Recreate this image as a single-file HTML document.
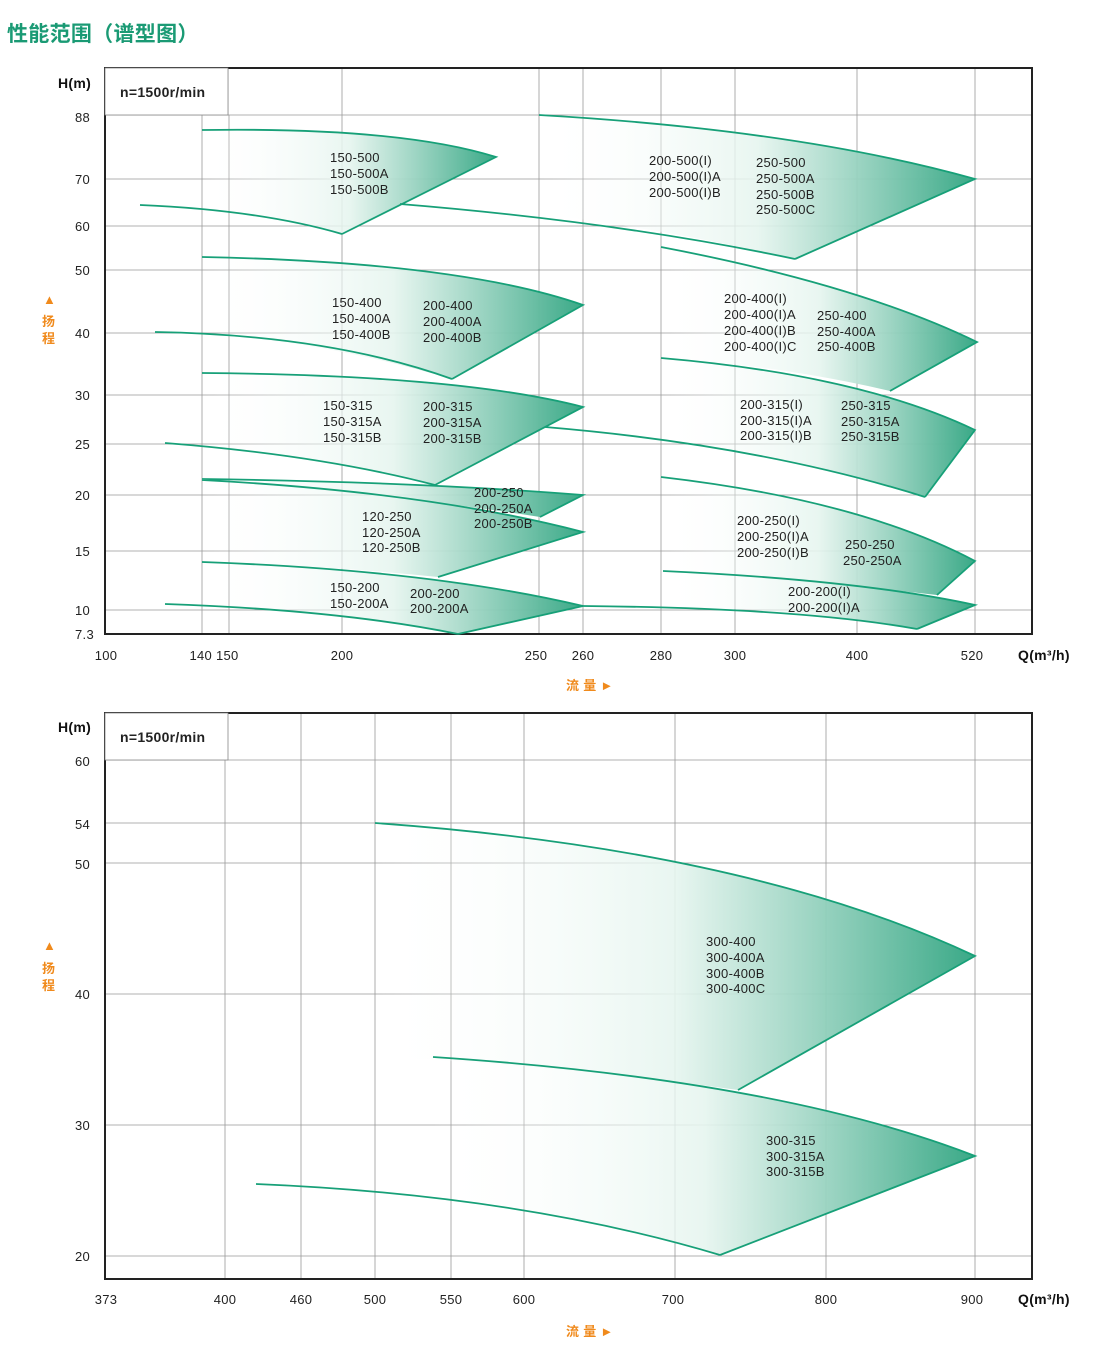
<!DOCTYPE html>
<html><head><meta charset="utf-8"><style>
body{margin:0;background:#fff;width:1096px;height:1352px;overflow:hidden}
svg{display:block}
text{font-family:"Liberation Sans","Noto Sans CJK SC",sans-serif;font-size:13px;fill:#222;letter-spacing:0.3px}
.ax{font-size:14px;fill:#111}
.g line{stroke:#999;stroke-width:0.8}
.s{fill:none;stroke:#17a078;stroke-width:1.8}
.f{fill:url(#gr);stroke:none}
.o{fill:#f08a1c;font-size:13px;font-weight:bold}
</style></head><body>
<svg width="1096" height="1352" xmlns="http://www.w3.org/2000/svg">
<defs><linearGradient id="gr" x1="0" y1="0" x2="1" y2="0">
<stop offset="0" stop-color="#ffffff" stop-opacity="0"/>
<stop offset="0.5" stop-color="#e6f5ef" stop-opacity="0.9"/>
<stop offset="1" stop-color="#3aa987"/>
</linearGradient></defs>
<text x="7" y="41" style="font-size:21px;font-weight:bold;fill:#1a9a74">性能范围（谱型图）</text>

<!-- Chart 1 -->
<g class="g">
<line x1="202" y1="115" x2="202" y2="634"/><line x1="229" y1="115" x2="229" y2="634"/><line x1="342" y1="68" x2="342" y2="634"/>
<line x1="539" y1="68" x2="539" y2="634"/><line x1="583" y1="68" x2="583" y2="634"/><line x1="661" y1="68" x2="661" y2="634"/>
<line x1="735" y1="68" x2="735" y2="634"/><line x1="857" y1="68" x2="857" y2="634"/><line x1="975" y1="68" x2="975" y2="634"/>
<line x1="105" y1="115" x2="1032" y2="115"/><line x1="105" y1="179" x2="1032" y2="179"/><line x1="105" y1="226" x2="1032" y2="226"/>
<line x1="105" y1="270" x2="1032" y2="270"/><line x1="105" y1="333" x2="1032" y2="333"/><line x1="105" y1="395" x2="1032" y2="395"/>
<line x1="105" y1="444" x2="1032" y2="444"/><line x1="105" y1="495" x2="1032" y2="495"/><line x1="105" y1="551" x2="1032" y2="551"/>
<line x1="105" y1="610" x2="1032" y2="610"/><line x1="228" y1="68" x2="228" y2="115"/>
</g>
<rect x="105" y="68" width="927" height="566" fill="none" stroke="#222" stroke-width="2"/>
<rect x="105" y="68" width="123" height="47" fill="#fff" stroke="#888" stroke-width="0.8"/>
<text x="120" y="97" style="font-size:14px;font-weight:bold">n=1500r/min</text>

<path class="f" d="M202,130 Q400,127 496,157 L342,234 Q250,212 202,208 Z"/>
<path class="f" d="M539,115 Q800,130 975,179 L795,259 Q660,228 539,214 Z"/>
<path class="f" d="M202,257 Q460,262 583,305 L452,379 Q320,340 202,335 Z"/>
<path class="f" d="M661,247 Q860,285 977,342 L890,391 Q780,365 661,358 Z"/>
<path class="f" d="M661,358 Q860,375 975,430 L925,497 Q790,455 661,438 Z"/>
<path class="f" d="M202,373 Q460,375 583,407 L435,485 Q320,455 202,447 Z"/>
<path class="f" d="M202,479 Q430,492 583,532 L438,577 Q320,565 202,562 Z"/>
<path class="f" d="M202,479 Q420,482 583,495 L540,517 Q400,495 202,480 Z"/>
<path class="f" d="M202,562 Q430,570 583,606 L458,634 Q340,612 202,606 Z"/>
<path class="f" d="M661,477 Q860,500 975,561 L937,595 Q800,580 663,571 Z"/>
<path class="f" d="M663,571 Q860,580 975,605 L917,629 Q800,608 663,607 Z"/>

<path class="s" d="M202,130 Q400,127 496,157 L342,234 M140,205 Q260,210 342,234"/>
<path class="s" d="M539,115 Q800,130 975,179 L795,259 M400,204 Q620,222 795,259"/>
<path class="s" d="M202,257 Q460,262 583,305 L452,379 M155,332 Q330,335 452,379"/>
<path class="s" d="M661,247 Q860,285 977,342 L890,391"/>
<path class="s" d="M661,358 Q860,375 975,430 L925,497 M545,427 Q760,445 925,497"/>
<path class="s" d="M202,373 Q460,375 583,407 L435,485 M165,443 Q320,455 435,485"/>
<path class="s" d="M202,479 Q420,482 583,495 L540,517 M202,480 Q430,492 583,532 L438,577"/>
<path class="s" d="M202,562 Q430,570 583,606 L458,634 M165,604 Q340,610 458,634"/>
<path class="s" d="M661,477 Q860,500 975,561 L937,595"/>
<path class="s" d="M663,571 Q860,580 975,605 L917,629 M583,606 Q800,608 917,629"/>

<text x="330" y="162">150-500</text><text x="330" y="178">150-500A</text><text x="330" y="194">150-500B</text>
<text x="649" y="165">200-500(I)</text><text x="649" y="181">200-500(I)A</text><text x="649" y="197">200-500(I)B</text>
<text x="756" y="167">250-500</text><text x="756" y="183">250-500A</text><text x="756" y="199">250-500B</text><text x="756" y="214">250-500C</text>
<text x="332" y="307">150-400</text><text x="332" y="323">150-400A</text><text x="332" y="339">150-400B</text>
<text x="423" y="310">200-400</text><text x="423" y="326">200-400A</text><text x="423" y="342">200-400B</text>
<text x="724" y="303">200-400(I)</text><text x="724" y="319">200-400(I)A</text><text x="724" y="335">200-400(I)B</text><text x="724" y="351">200-400(I)C</text>
<text x="817" y="320">250-400</text><text x="817" y="336">250-400A</text><text x="817" y="351">250-400B</text>
<text x="323" y="410">150-315</text><text x="323" y="426">150-315A</text><text x="323" y="442">150-315B</text>
<text x="423" y="411">200-315</text><text x="423" y="427">200-315A</text><text x="423" y="443">200-315B</text>
<text x="740" y="409">200-315(I)</text><text x="740" y="425">200-315(I)A</text><text x="740" y="440">200-315(I)B</text>
<text x="841" y="410">250-315</text><text x="841" y="426">250-315A</text><text x="841" y="441">250-315B</text>
<text x="474" y="497">200-250</text><text x="474" y="513">200-250A</text><text x="474" y="528">200-250B</text>
<text x="362" y="521">120-250</text><text x="362" y="537">120-250A</text><text x="362" y="552">120-250B</text>
<text x="737" y="525">200-250(I)</text><text x="737" y="541">200-250(I)A</text><text x="737" y="557">200-250(I)B</text>
<text x="845" y="549">250-250</text><text x="843" y="565">250-250A</text>
<text x="330" y="592">150-200</text><text x="330" y="608">150-200A</text>
<text x="410" y="598">200-200</text><text x="410" y="613">200-200A</text>
<text x="788" y="596">200-200(I)</text><text x="788" y="612">200-200(I)A</text>

<g class="ax" text-anchor="end">
<text x="90" y="122">88</text><text x="90" y="184">70</text><text x="90" y="231">60</text><text x="90" y="275">50</text>
<text x="90" y="338">40</text><text x="90" y="400">30</text><text x="90" y="449">25</text><text x="90" y="500">20</text>
<text x="90" y="556">15</text><text x="90" y="615">10</text><text x="94" y="639">7.3</text>
</g>
<text class="ax" x="58" y="88" style="font-weight:bold">H(m)</text>
<g class="ax" text-anchor="middle">
<text x="106" y="660">100</text><text x="214" y="660">140 150</text><text x="342" y="660">200</text><text x="536" y="660">250</text>
<text x="583" y="660">260</text><text x="661" y="660">280</text><text x="735" y="660">300</text><text x="857" y="660">400</text><text x="972" y="660">520</text>
</g>
<text class="ax" x="1018" y="660" style="font-weight:bold">Q(m³/h)</text>
<text class="o" x="566" y="690">流 量 ►</text>
<text class="o" x="43" y="304">▲</text><text class="o" x="42" y="326">扬</text><text class="o" x="42" y="343">程</text>

<!-- Chart 2 -->
<g class="g">
<line x1="225" y1="713" x2="225" y2="1279"/><line x1="301" y1="713" x2="301" y2="1279"/><line x1="375" y1="713" x2="375" y2="1279"/>
<line x1="451" y1="713" x2="451" y2="1279"/><line x1="524" y1="713" x2="524" y2="1279"/><line x1="675" y1="713" x2="675" y2="1279"/>
<line x1="826" y1="713" x2="826" y2="1279"/><line x1="975" y1="713" x2="975" y2="1279"/>
<line x1="105" y1="760" x2="1032" y2="760"/><line x1="105" y1="823" x2="1032" y2="823"/><line x1="105" y1="863" x2="1032" y2="863"/>
<line x1="105" y1="994" x2="1032" y2="994"/><line x1="105" y1="1125" x2="1032" y2="1125"/><line x1="105" y1="1256" x2="1032" y2="1256"/>
</g>
<rect x="105" y="713" width="927" height="566" fill="none" stroke="#222" stroke-width="2"/>
<rect x="105" y="713" width="123" height="47" fill="#fff" stroke="#888" stroke-width="0.8"/>
<text x="120" y="742" style="font-size:14px;font-weight:bold">n=1500r/min</text>

<path class="f" d="M375,823 Q750,850 975,956 L738,1090 Q560,1065 375,1057 Z"/>
<path class="f" d="M433,1057 Q780,1080 975,1156 L720,1255 Q560,1210 433,1196 Z"/>
<path class="s" d="M375,823 Q750,850 975,956 L738,1090"/>
<path class="s" d="M433,1057 Q780,1080 975,1156 L720,1255 M256,1184 Q520,1195 720,1255"/>

<text x="706" y="946">300-400</text><text x="706" y="962">300-400A</text><text x="706" y="978">300-400B</text><text x="706" y="993">300-400C</text>
<text x="766" y="1145">300-315</text><text x="766" y="1161">300-315A</text><text x="766" y="1176">300-315B</text>

<g class="ax" text-anchor="end">
<text x="90" y="766">60</text><text x="90" y="829">54</text><text x="90" y="869">50</text><text x="90" y="999">40</text>
<text x="90" y="1130">30</text><text x="90" y="1261">20</text>
</g>
<text class="ax" x="58" y="732" style="font-weight:bold">H(m)</text>
<g class="ax" text-anchor="middle">
<text x="106" y="1304">373</text><text x="225" y="1304">400</text><text x="301" y="1304">460</text><text x="375" y="1304">500</text>
<text x="451" y="1304">550</text><text x="524" y="1304">600</text><text x="673" y="1304">700</text><text x="826" y="1304">800</text><text x="972" y="1304">900</text>
</g>
<text class="ax" x="1018" y="1304" style="font-weight:bold">Q(m³/h)</text>
<text class="o" x="566" y="1336">流 量 ►</text>
<text class="o" x="43" y="950">▲</text><text class="o" x="42" y="973">扬</text><text class="o" x="42" y="990">程</text>
</svg>
</body></html>
